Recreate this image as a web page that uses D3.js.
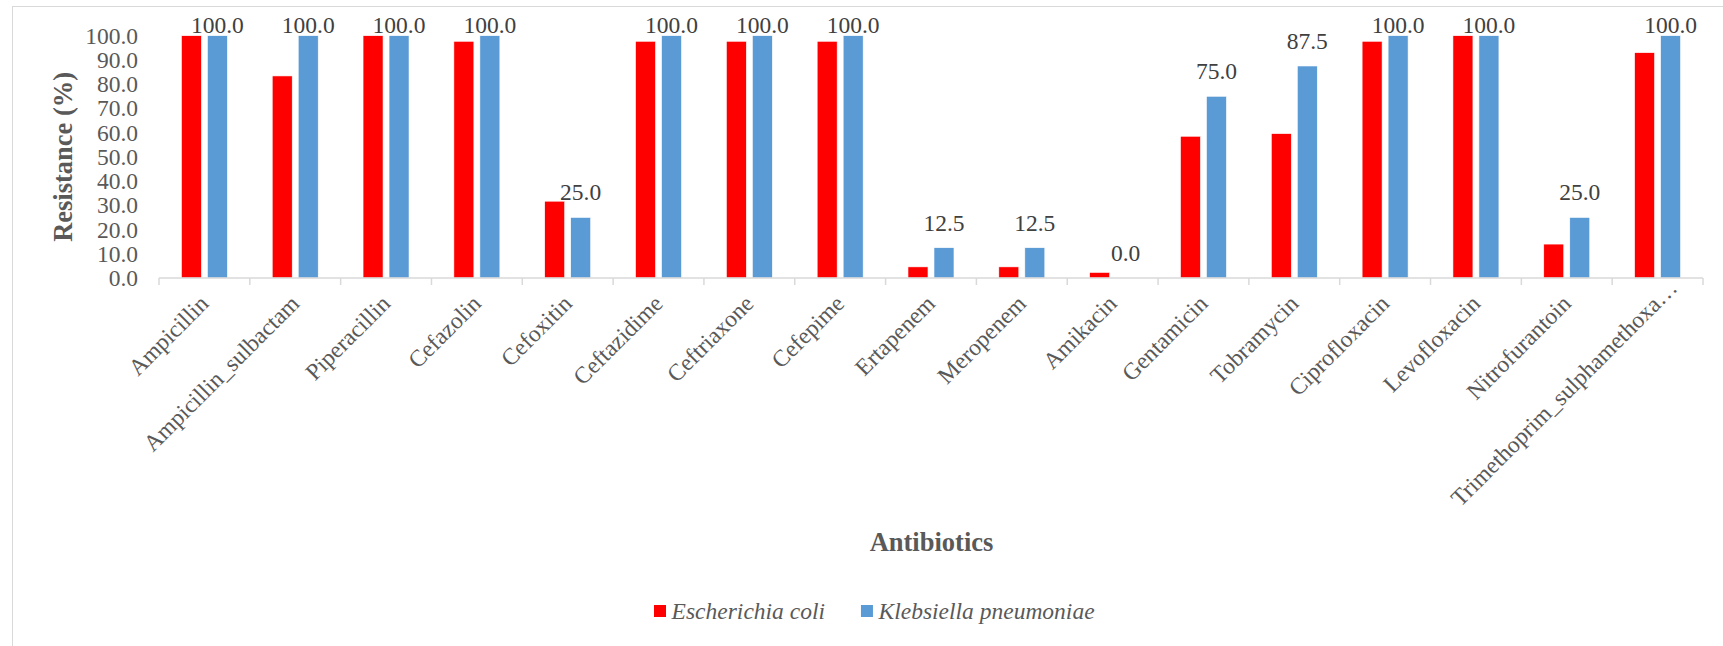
<!DOCTYPE html>
<html>
<head>
<meta charset="utf-8">
<script src="https://cdn.jsdelivr.net/npm/d3@7"></script>
<style>
  html, body { margin: 0; padding: 0; background: #fff; }
  svg { display: block; font-family: "Liberation Serif", "Times New Roman", serif; }
</style>
</head>
<body>
<svg id="chart" width="1723" height="646"></svg>
<script>
// Antibiotic categories (last label is shortened as displayed on the axis)
const categories = [
  "Ampicillin", "Ampicillin_sulbactam", "Piperacillin", "Cefazolin", "Cefoxitin",
  "Ceftazidime", "Ceftriaxone", "Cefepime", "Ertapenem", "Meropenem", "Amikacin",
  "Gentamicin", "Tobramycin", "Ciprofloxacin", "Levofloxacin", "Nitrofurantoin",
  "Trimethoprim_sulphamethoxa\u2026"
];
const seriesNames = ["Escherichia coli", "Klebsiella pneumoniae"];
// Resistance (%) per antibiotic
const ecoliValues = [100, 83.4, 100, 97.7, 31.7, 97.7, 97.7, 97.7, 4.6, 4.6, 2.3, 58.5, 59.6, 97.7, 100, 14.0, 93.0];
const kpnValues   = [100, 100, 100, 100, 25.0, 100, 100, 100, 12.5, 12.5, 0.0, 75.0, 87.5, 100, 100, 25.0, 100];
const yTicks = [0, 10, 20, 30, 40, 50, 60, 70, 80, 90, 100];
const colors = ["#FF0000", "#5B9BD5"];

const svg = d3.select("#chart");

// chart frame
svg.append("rect")
  .attr("x", 12.5).attr("y", 6.5)
  .attr("width", 1800).attr("height", 800)
  .attr("fill", "#fff").attr("stroke", "#d9d9d9").attr("stroke-width", 1);

const plot = { left: 159, right: 1703, top: 35.7, bottom: 278 };

const x0 = d3.scaleBand().domain(categories).range([plot.left, plot.right]).padding(0);
const x1 = d3.scaleBand().domain(seriesNames).range([22.4, 68.4]).paddingInner(6 / 26).paddingOuter(0);
const y = d3.scaleLinear().domain([0, 100]).range([plot.bottom, plot.top]);

const rows = categories.map((c, i) => ({
  cat: c,
  vals: [
    { s: seriesNames[0], v: ecoliValues[i], c: colors[0] },
    { s: seriesNames[1], v: kpnValues[i], c: colors[1] }
  ]
}));

// bars
const groups = svg.append("g").selectAll("g").data(rows).join("g")
  .attr("transform", d => `translate(${x0(d.cat)},0)`);

groups.selectAll("rect").data(d => d.vals).join("rect")
  .attr("x", d => x1(d.s))
  .attr("width", x1.bandwidth())
  .attr("y", d => y(d.v))
  .attr("height", d => plot.bottom - y(d.v))
  .attr("fill", d => d.c)
  .attr("stroke", "#fff").attr("stroke-width", 0.6);

// data labels on Klebsiella bars, kept inside the plot area
groups.append("text")
  .attr("x", x1(seriesNames[1]) + x1.bandwidth() / 2)
  .attr("y", d => Math.max(y(d.vals[1].v) - 17, plot.top - 2.4))
  .attr("text-anchor", "middle")
  .attr("font-size", 23.5)
  .attr("fill", "#404040")
  .text(d => d3.format(".1f")(d.vals[1].v));

// y axis labels (no axis line)
const yAxis = d3.axisLeft(y).tickValues(yTicks).tickFormat(d3.format(".1f")).tickSize(0).tickPadding(0);
const yg = svg.append("g").attr("transform", `translate(138,0)`).call(yAxis);
yg.select(".domain").remove();
yg.selectAll("text")
  .attr("font-family", "Liberation Serif, Times New Roman, serif")
  .attr("font-size", 23.5)
  .attr("fill", "#595959");

// x axis line with category separators
const xAxis = d3.axisBottom(x0).tickSize(0).tickFormat("");
const xg = svg.append("g").attr("transform", `translate(0,${plot.bottom})`).call(xAxis);
xg.select(".domain").attr("stroke", "#d9d9d9").attr("stroke-width", 1.5).attr("d", `M${plot.left},0H${plot.right}`);
xg.selectAll(".tick").remove();
const bounds = categories.map(c => x0(c)).concat([plot.right]);
xg.selectAll("line.sep").data(bounds).join("line")
  .attr("class", "sep")
  .attr("x1", d => d).attr("x2", d => d)
  .attr("y1", 0).attr("y2", 7)
  .attr("stroke", "#d9d9d9").attr("stroke-width", 1.5);

// rotated category labels
svg.append("g").selectAll("text").data(categories).join("text")
  .attr("transform", d => {
    const cx = x0(d) + x0.bandwidth() / 2;
    const shift = d.endsWith("\u2026") ? 22 : 0;
    return `translate(${cx + 5.5 + shift * 0.707},${plot.bottom + 27 - shift * 0.707}) rotate(-45)`;
  })
  .attr("text-anchor", "end")
  .attr("font-size", 23.5)
  .attr("fill", "#595959")
  .text(d => d);

// axis titles
svg.append("text")
  .attr("transform", `translate(72,${(plot.top + plot.bottom) / 2}) rotate(-90)`)
  .attr("text-anchor", "middle")
  .attr("font-size", 26.5).attr("font-weight", "bold")
  .attr("fill", "#595959")
  .text("Resistance (%)");

svg.append("text")
  .attr("x", 931.5).attr("y", 551)
  .attr("text-anchor", "middle")
  .attr("font-size", 26.5).attr("font-weight", "bold")
  .attr("fill", "#595959")
  .text("Antibiotics");

// legend
const legend = svg.append("g").attr("transform", "translate(654,611)");
let lx = 0;
seriesNames.forEach((name, i) => {
  legend.append("rect").attr("x", lx).attr("y", -6).attr("width", 12).attr("height", 12).attr("fill", colors[i]);
  const t = legend.append("text")
    .attr("x", lx + 17.6).attr("y", 7.5)
    .attr("font-size", 23.5).attr("font-style", "italic")
    .attr("fill", "#595959")
    .text(name);
  lx += 17.6 + t.node().getComputedTextLength() + 36;
});
</script>
</body>
</html>
